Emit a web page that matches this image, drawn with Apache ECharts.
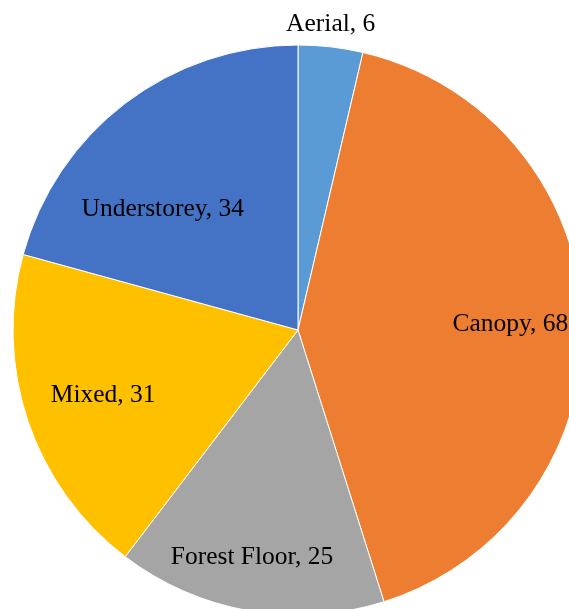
<!DOCTYPE html>
<html>
<head>
<meta charset="utf-8">
<script src="https://cdn.jsdelivr.net/npm/echarts@6/dist/echarts.min.js"></script>
<style>
html,body{margin:0;padding:0;background:#fff;}
#chart{width:569px;height:609px;}
</style>
</head>
<body>
<div id="chart"></div>
<script>
const categories = ['Aerial', 'Canopy', 'Forest Floor', 'Mixed', 'Understorey'];
const values = [6, 68, 25, 31, 34];
const colors = ['#5B9BD5', '#ED7D31', '#A5A5A5', '#FFC000', '#4472C4'];
const labelOffsets = [[16, -161], [67, 0], [-21, 84], [-57, 19], [-47, -5]];

const chart = echarts.init(document.getElementById('chart'), null, {renderer: 'canvas'});
chart.setOption({
  animation: false,
  backgroundColor: '#fff',
  series: [{
    type: 'pie',
    center: [298, 330],
    radius: [0, 285],
    startAngle: 90,
    clockwise: true,
    avoidLabelOverlap: false,
    silent: true,
    itemStyle: {borderColor: '#fff', borderWidth: 1},
    label: {
      show: true,
      position: 'inside',
      formatter: p => p.name + ', ' + p.value,
      fontFamily: 'Liberation Serif',
      fontSize: 25.5,
      color: '#000'
    },
    labelLine: {show: false},
    data: categories.map((c, i) => ({
      name: c,
      value: values[i],
      itemStyle: {color: colors[i]},
      label: {offset: labelOffsets[i]}
    }))
  }]
});
</script>
</body>
</html>
